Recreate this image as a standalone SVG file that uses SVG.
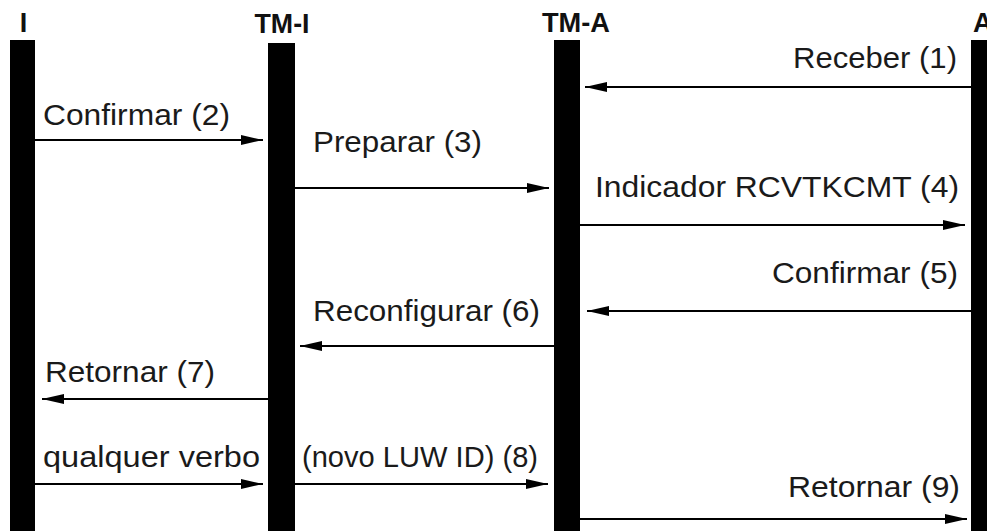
<svg xmlns="http://www.w3.org/2000/svg" width="987" height="531" viewBox="0 0 987 531">
<style>
.bar{fill:#000}
.hd{font-family:"Liberation Sans",Arial,sans-serif;font-weight:bold;font-size:27px;fill:#111}
.lb{font-family:"Liberation Sans",Arial,sans-serif;font-size:30px;fill:#1a1a1a}
.ln{stroke:#000;stroke-width:2;fill:none;marker-end:url(#ah)}
</style>
<defs>
<marker id="ah" markerUnits="userSpaceOnUse" markerWidth="22" markerHeight="10" refX="22" refY="5" orient="auto">
<path d="M0,0 L22,5 L0,10 z" fill="#000"/>
</marker>
</defs>
<rect width="987" height="531" fill="#fff"/>
<g id="node-I">
<rect class="bar" x="10" y="40" width="25" height="491"/>
<text class="hd" x="23.5" y="32" text-anchor="middle">I</text>
</g>
<g id="node-TM-I">
<rect class="bar" x="268" y="43" width="27" height="488"/>
<text class="hd" x="282" y="33" text-anchor="middle" textLength="55" lengthAdjust="spacingAndGlyphs">TM-I</text>
</g>
<g id="node-TM-A">
<rect class="bar" x="554" y="40" width="26" height="491"/>
<text class="hd" x="576" y="32" text-anchor="middle" textLength="68" lengthAdjust="spacingAndGlyphs">TM-A</text>
</g>
<g id="node-A">
<rect class="bar" x="971" y="40" width="26" height="491"/>
<text class="hd" x="973" y="32">A</text>
</g>
<g id="connectors">
<line class="ln" x1="971" y1="87" x2="585" y2="87"/>
<line class="ln" x1="35" y1="140" x2="263" y2="140"/>
<line class="ln" x1="295" y1="188" x2="549" y2="188"/>
<line class="ln" x1="580" y1="225" x2="965" y2="225"/>
<line class="ln" x1="971" y1="311" x2="587" y2="311"/>
<line class="ln" x1="554" y1="346" x2="300" y2="346"/>
<line class="ln" x1="268" y1="399" x2="42" y2="399"/>
<line class="ln" x1="35" y1="484" x2="263" y2="484"/>
<line class="ln" x1="295" y1="484" x2="548" y2="484"/>
<line class="ln" x1="580" y1="519" x2="967" y2="519"/>
<text class="lb" x="793" y="68" textLength="164" lengthAdjust="spacingAndGlyphs">Receber (1)</text>
<text class="lb" x="43" y="125" textLength="187" lengthAdjust="spacingAndGlyphs">Confirmar (2)</text>
<text class="lb" x="313" y="152" textLength="169" lengthAdjust="spacingAndGlyphs">Preparar (3)</text>
<text class="lb" x="595" y="197" textLength="364" lengthAdjust="spacingAndGlyphs">Indicador RCVTKCMT (4)</text>
<text class="lb" x="772" y="283" textLength="186" lengthAdjust="spacingAndGlyphs">Confirmar (5)</text>
<text class="lb" x="313" y="321" textLength="227" lengthAdjust="spacingAndGlyphs">Reconfigurar (6)</text>
<text class="lb" x="45" y="382" textLength="170" lengthAdjust="spacingAndGlyphs">Retornar (7)</text>
<text class="lb" x="43" y="467" textLength="217" lengthAdjust="spacingAndGlyphs">qualquer verbo</text>
<text class="lb" x="302" y="467" textLength="236" lengthAdjust="spacingAndGlyphs">(novo LUW ID) (8)</text>
<text class="lb" x="788" y="497" textLength="172" lengthAdjust="spacingAndGlyphs">Retornar (9)</text>
</g>
</svg>
